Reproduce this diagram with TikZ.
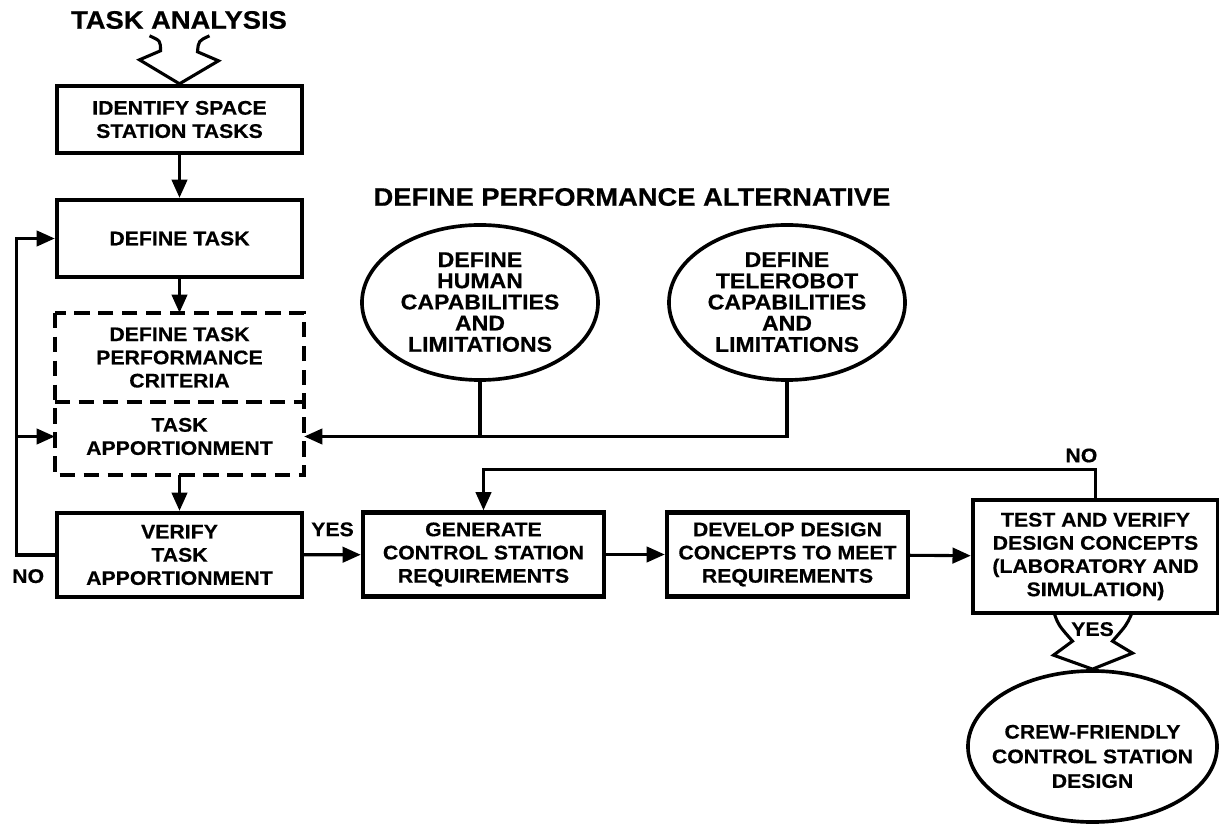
\documentclass[tikz,border=0pt]{standalone}
\usepackage{fontspec}
\setmainfont{Liberation Sans}[FakeStretch=1.08,FakeBold=0.5]
\usetikzlibrary{arrows.meta,shapes.geometric}

\newcommand{\ovaltext}[4]{\makebox[0pt]{\smash{\raisebox{#3}{\fontsize{#1}{#2}\selectfont\begin{tabular}{@{}c@{}}#4\end{tabular}}}}}

\begin{document}
\begin{tikzpicture}[x=0.025cm,y=-0.025cm,
  box/.style={draw,line width=3.1pt,rectangle,minimum width=6.125cm,align=center,inner sep=2pt,font=\bfseries\fontsize{14}{16.5}\selectfont},
  oval/.style={draw,ellipse,line width=2.6pt,inner sep=0pt,minimum width=5.9cm,minimum height=3.875cm,font=\bfseries},
  dashbox/.style={line width=2.5pt,dash pattern=on 11pt off 6pt},
  flow/.style={line width=2.2pt,-{Triangle[length=13pt,width=11pt]}},
  link/.style={line width=2.2pt},
  bolt/.style={line width=2.2pt,line join=miter},
  heading/.style={font=\bfseries\fontsize{18}{20}\selectfont},
  tag/.style={font=\bfseries\fontsize{14}{16}\selectfont,inner sep=1pt}]

\useasboundingbox (0,0) rectangle (1219,826);

\node[heading] (analysis) at (179,20) {TASK ANALYSIS};
\node[heading] (alternative) at (632,197) {DEFINE PERFORMANCE ALTERNATIVE};

\node[box,minimum height=1.675cm] (identify) at (179.5,119.5) {IDENTIFY SPACE\\STATION TASKS};
\node[box,minimum height=1.925cm] (definetask) at (179.5,238.5) {DEFINE TASK};
\node[box,draw=none,minimum height=2.125cm] (criteria) at (179.5,357.5) {DEFINE TASK\\PERFORMANCE\\CRITERIA};
\node[box,draw=none,minimum height=1.825cm] (apportion) at (179.5,436.5) {TASK\\APPORTIONMENT};
\node[box,minimum height=2.1cm] (verify) at (179.5,555) {VERIFY\\TASK\\APPORTIONMENT};
\node[box,minimum width=6.025cm,minimum height=2.1cm] (generate) at (483.5,554.5) {GENERATE\\CONTROL STATION\\REQUIREMENTS};
\node[box,minimum width=6.025cm,minimum height=2.1cm] (develop) at (787.5,554.5) {DEVELOP DESIGN\\CONCEPTS TO MEET\\REQUIREMENTS};
\node[box,minimum height=2.825cm] (test) at (1095.5,556.5) {TEST AND VERIFY\\DESIGN CONCEPTS\\(LABORATORY AND\\SIMULATION)};

\node[oval] (human) at (480,302.5) {\ovaltext{15.2}{15}{-5.5pt}{DEFINE\\HUMAN\\CAPABILITIES\\AND\\LIMITATIONS}};
\node[oval] (telerobot) at (787,302.5) {\ovaltext{15.2}{15}{-5.5pt}{DEFINE\\TELEROBOT\\CAPABILITIES\\AND\\LIMITATIONS}};
\node[oval,minimum width=6.225cm,minimum height=3.775cm] (crew) at (1092.5,746.5) {\ovaltext{14}{17.5}{-12pt}{CREW-FRIENDLY\\CONTROL STATION\\DESIGN}};

\draw[dashbox] (criteria.north west) rectangle (apportion.south east);
\draw[dashbox] (criteria.south west) -- (criteria.south east);

\draw[bolt,shift={(identify.north)}] (-30,-48) .. controls (-19,-43) .. (-19,-33) -- (-40,-24) -- (0,0) -- (39,-23) -- (18,-32) .. controls (19,-43) .. (30,-48);
\draw[flow] (identify) -- (definetask);
\draw[flow] (definetask) -- (criteria);
\draw[flow] (apportion) -- (verify);
\draw[flow] (verify.west) -- node[tag,below=8pt,pos=0.7] (noleft) {NO} ++(-38,0) coordinate (loopbend) |- (definetask.west);
\draw[flow] (loopbend |- apportion.west) -- (apportion.west);

\draw[link] (human.south) -- (human.south |- apportion.east);
\draw[flow] (telerobot.south) |- (apportion.east);

\draw[flow] (verify) -- node[tag,above=11pt] (yesright) {YES} (generate);
\draw[flow] (generate) -- (develop);
\draw[flow] (develop) -- (test);
\draw[flow] (test.north) -- ++(0,-28) coordinate (nobend) -| (generate.north);
\node[tag,above=4pt,xshift=-10pt] (notop) at (nobend) {NO};

\draw[bolt,shift={(crew.north)}] (-38,-55) .. controls (-34,-44) .. (-20,-28) -- (-39,-14) -- (0,0) -- (40,-16) -- (20,-28) .. controls (34,-44) .. (39,-55);
\node[tag] (yesdown) at ([shift={(0,-40)}]crew.north) {YES};

\end{tikzpicture}
\end{document}
